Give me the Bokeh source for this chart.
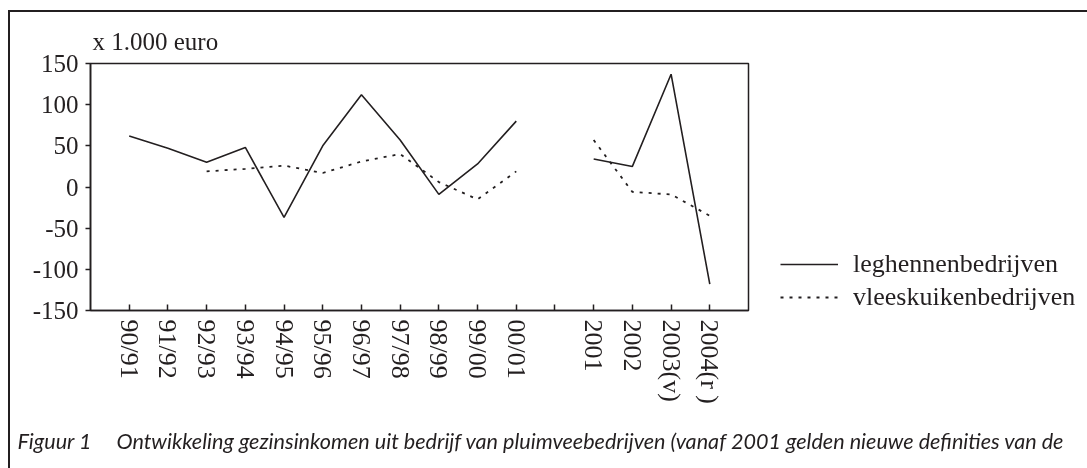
import math
from bokeh.plotting import figure
from bokeh.models import FixedTicker, Legend, LegendItem, Title, Range1d
from bokeh.embed import file_html
from bokeh.resources import INLINE

categories = ["90/91", "91/92", "92/93", "93/94", "94/95", "95/96", "96/97", "97/98",
              "98/99", "99/00", "00/01", "", "2001", "2002", "2003(v)", "2004(r )"]
leghennen = [62, 47, 30, 48, -37, 50, 112, 57, -9, 28, 80, None, 34, 25, 137, -118]
vleeskuiken = [None, None, 19, 22, 26, 17, 31, 40, 6, -15, 19, None, 57, -6, -9, -35]
y_ticks = [-150, -100, -50, 0, 50, 100, 150]
series_names = ["leghennenbedrijven", "vleeskuikenbedrijven"]
y_unit = "x 1.000 euro"
caption = ("Figuur 1\u2003\u2002Ontwikkeling gezinsinkomen uit bedrijf van pluimveebedrijven "
           "(vanaf 2001 gelden nieuwe definities van de")

xs = list(range(1, len(categories) + 1))
nan = float("nan")
lh = [nan if v is None else v for v in leghennen]
vk = [nan if v is None else v for v in vleeskuiken]

INK = "#231f20"
SERIF = "Liberation Serif"

p = figure(output_backend="svg", toolbar_location=None,
           x_range=Range1d(0, 17), y_range=Range1d(-150, 150),
           frame_width=658, frame_height=247,
           min_border_left=80, min_border_top=51, min_border_right=360, min_border_bottom=180)
p.styles = {"border-top": "2px solid #231f20", "border-left": "2px solid #231f20",
            "position": "fixed", "top": "10px", "left": "8px"}
p.background_fill_color = "white"
p.border_fill_color = "white"
p.outline_line_color = INK
p.outline_line_width = 1.5
p.xgrid.visible = False
p.ygrid.visible = False

r1 = p.line(xs, lh, line_color=INK, line_width=1.6)
r2 = p.line(xs, vk, line_color=INK, line_width=1.8, line_dash="3 6")

p.xaxis.ticker = FixedTicker(ticks=xs)
p.xaxis.major_label_overrides = {x: c for x, c in zip(xs, categories)}
p.xaxis.major_label_orientation = -math.pi / 2
p.xaxis.major_tick_in = 6
p.xaxis.major_tick_out = 0
p.xaxis.minor_tick_line_color = None
p.xaxis.major_label_standoff = 9
p.xaxis.major_label_text_font = SERIF
p.xaxis.major_label_text_font_size = "26px"
p.xaxis.major_label_text_color = INK

p.yaxis.ticker = FixedTicker(ticks=y_ticks)
p.yaxis.major_label_overrides = {v: str(v) for v in y_ticks}
p.yaxis.major_tick_in = 0
p.yaxis.major_tick_out = 5
p.yaxis.minor_tick_line_color = None
p.yaxis.major_label_standoff = 7
p.yaxis.major_label_text_font = SERIF
p.yaxis.major_label_text_font_size = "25px"
p.yaxis.major_label_text_color = INK

for ax in (p.xaxis, p.yaxis):
    ax.axis_line_color = INK
    ax.axis_line_width = 1.6
    ax.major_tick_line_color = INK
    ax.major_tick_line_width = 1.5

legend = Legend(items=[LegendItem(label=series_names[0], renderers=[r1]),
                       LegendItem(label=series_names[1], renderers=[r2])],
                location=(32, -2), padding=0, margin=0, spacing=3,
                glyph_width=58, label_standoff=15,
                label_text_font=SERIF, label_text_font_size="26px",
                label_text_color=INK,
                border_line_alpha=0, background_fill_alpha=0)
p.add_layout(legend, "right")

p.title = Title(text=y_unit, align="left", offset=2, standoff=18,
                text_font=SERIF, text_font_size="25px", text_font_style="normal",
                text_color=INK)
p.add_layout(Title(text=caption, align="left", offset=-73, standoff=39,
                   text_font="Lato", text_font_style="italic",
                   text_font_size="21.6px", text_color=INK), "below")

open("out.html", "w").write(file_html(p, INLINE))
